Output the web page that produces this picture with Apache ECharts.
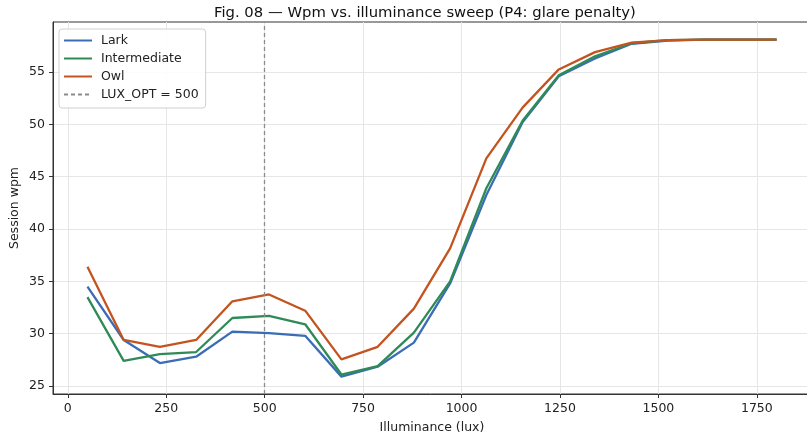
<!DOCTYPE html>
<html><head><meta charset="utf-8">
<script src="https://cdn.jsdelivr.net/npm/echarts@6/dist/echarts.min.js"></script>
<style>html,body{margin:0;padding:0;background:#fff}#c{width:807px;height:434px}</style>
</head><body><div id="c"></div>
<script>
const illuminance = [50, 142, 234, 326, 418, 511, 603, 695, 787, 879, 971, 1063, 1155, 1247, 1339, 1432, 1524, 1616, 1708, 1800];
const lark = [34.5, 29.4, 27.2, 27.8, 30.2, 30.05, 29.8, 25.9, 26.85, 29.15, 34.8, 43.25, 50.2, 54.6, 56.3, 57.7, 58.0, 58.1, 58.1, 58.1];
const intermediate = [33.5, 27.4, 28.05, 28.25, 31.5, 31.7, 30.9, 26.1, 26.9, 30.1, 35.0, 43.9, 50.35, 54.7, 56.5, 57.75, 58.05, 58.1, 58.1, 58.1];
const owl = [36.4, 29.4, 28.75, 29.4, 33.1, 33.75, 32.2, 27.55, 28.75, 32.4, 38.15, 46.75, 51.6, 55.25, 56.9, 57.8, 58.05, 58.1, 58.1, 58.1];
const LUX_OPT = 500;
const xTicks = [0, 250, 500, 750, 1000, 1250, 1500, 1750];
const yTicks = [25, 30, 35, 40, 45, 50, 55];

const pair = arr => illuminance.map((x, i) => [x, arr[i]]);
const FONT = 'DejaVu Sans';
const chart = echarts.init(document.getElementById('c'), null, {renderer: 'canvas'});
const mkSeries = (name, data, color) => ({
  name, type: 'line', data: pair(data), symbol: 'none', showSymbol: false,
  lineStyle: {color, width: 2.3}, itemStyle: {color}, z: 3, animation: false
});
chart.setOption({
  animation: false,
  title: {
    text: 'Fig. 08 \u2014 Wpm vs. illuminance sweep (P4: glare penalty)',
    left: 209, top: 1,
    textStyle: {fontFamily: FONT, fontSize: 14.8, fontWeight: 'normal', color: '#111'}
  },
  grid: {left: 53, right: -4, top: 22, bottom: 40, show: true, borderColor: '#333', borderWidth: 1,
         containLabel: false, outerBoundsMode: 'none'},
  legend: {
    orient: 'vertical', left: 59, top: 29,
    data: ['Lark', 'Intermediate', 'Owl', 'LUX_OPT = 500'],
    itemWidth: 28, itemHeight: 10, itemGap: 5,
    padding: [5, 7, 7, 4],
    backgroundColor: 'rgba(255,255,255,0.85)', borderColor: '#d0d0d0', borderWidth: 1, borderRadius: 3,
    itemStyle: {color: 'rgba(0,0,0,0)', borderWidth: 0, opacity: 0},
    textStyle: {fontFamily: FONT, fontSize: 12.5, color: '#222', padding: [0, 0, 0, 4]}
  },
  xAxis: {
    type: 'value', min: -37.5, max: 1887.5,
    name: 'Illuminance (lux)', nameLocation: 'middle', nameGap: 27,
    nameTextStyle: {fontFamily: FONT, fontSize: 12.5, color: '#222'},
    axisLine: {show: true, onZero: false, lineStyle: {color: '#333'}},
    axisTick: {show: true, inside: false, length: 4, lineStyle: {color: '#333'}, customValues: xTicks},
    axisLabel: {fontFamily: FONT, fontSize: 12.5, color: '#222', margin: 8, customValues: xTicks,
                formatter: v => String(v)},
    splitLine: {show: true, lineStyle: {color: '#e6e6e6', width: 1}}
  },
  yAxis: {
    type: 'value', min: 24.24, max: 59.78,
    name: 'Session wpm', nameLocation: 'middle', nameGap: 32, nameRotate: 90, nameMoveOverlap: false,
    nameTextStyle: {fontFamily: FONT, fontSize: 12.5, color: '#222'},
    axisLine: {show: true, onZero: false, lineStyle: {color: '#333'}},
    axisTick: {show: true, inside: false, length: 4, lineStyle: {color: '#333'}, customValues: yTicks},
    axisLabel: {fontFamily: FONT, fontSize: 12.5, color: '#222', margin: 8, customValues: yTicks,
                formatter: v => String(v)},
    splitLine: {show: true, lineStyle: {color: '#e6e6e6', width: 1}}
  },
  series: [
    mkSeries('Lark', lark, '#3a6db5'),
    mkSeries('Intermediate', intermediate, '#2e8b57'),
    mkSeries('Owl', owl, '#c4541f'),
    {
      name: 'LUX_OPT = 500', type: 'line', data: [], symbol: 'none',
      lineStyle: {color: '#8c8c8c', width: 1.3, type: [4, 3]}, itemStyle: {color: '#8c8c8c'},
      markLine: {
        symbol: 'none', silent: true, label: {show: false},
        lineStyle: {color: '#8c8c8c', width: 1.3, type: [4, 3]},
        data: [{xAxis: LUX_OPT}]
      }
    }
  ]
});
</script></body></html>
